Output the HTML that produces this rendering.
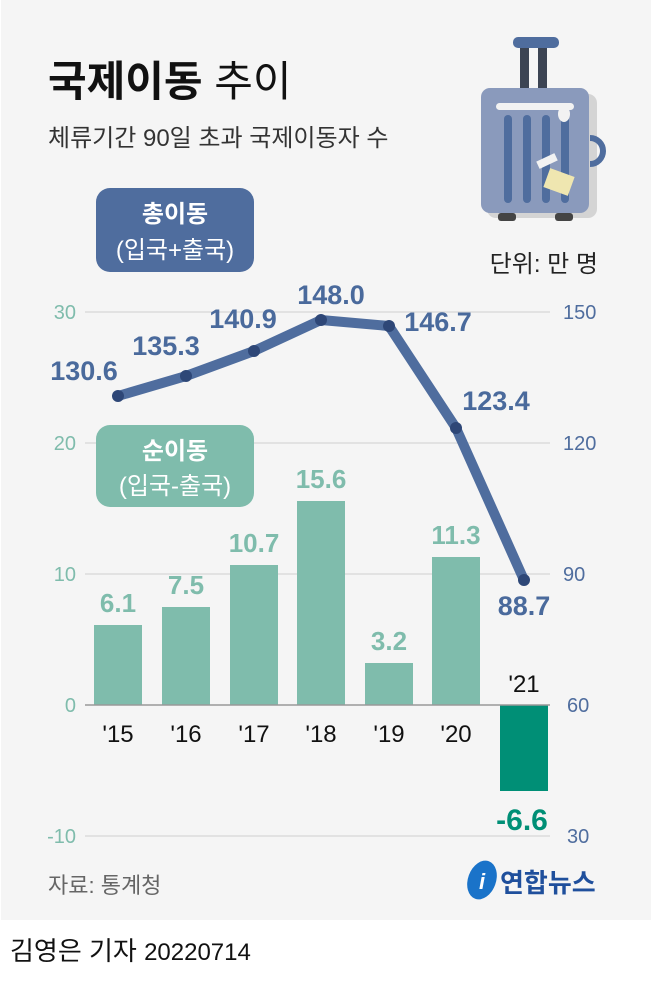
<!DOCTYPE html>
<html><head><meta charset="utf-8"><style>
body{margin:0;width:651px;height:980px;background:#fff;overflow:hidden}
svg text{font-family:"Liberation Sans","Noto Sans CJK KR",sans-serif}
</style></head><body>
<svg width="651" height="980" viewBox="0 0 651 980">
<rect x="1" y="0" width="650" height="920" fill="#f5f5f5"/>
<text x="48" y="96" font-size="42" font-weight="bold" fill="#111">국제이동 <tspan font-weight="normal">추이</tspan></text>
<text x="48" y="146" font-size="24" fill="#333">체류기간 90일 초과 국제이동자 수</text>
<!-- suitcase -->
<g>
<rect x="487" y="94" width="110" height="124" rx="9" fill="#d4d4d4"/>
<rect x="520" y="45" width="9" height="45" fill="#3c4453"/>
<rect x="538" y="45" width="9" height="45" fill="#3c4453"/>
<rect x="513" y="37" width="46" height="11" rx="5" fill="#4f6d9e"/>
<path d="M590 138 a12 12 0 0 1 0 26" stroke="#4f6d9e" stroke-width="6" fill="none"/>
<rect x="481" y="88" width="108" height="125" rx="9" fill="#8a9abc"/>
<rect x="496" y="103" width="78" height="7" rx="3.5" fill="#f2f2f2"/>
<rect x="504" y="115" width="8" height="88" rx="4" fill="#4f6d9e"/>
<rect x="523" y="115" width="8" height="88" rx="4" fill="#4f6d9e"/>
<rect x="542" y="115" width="8" height="88" rx="4" fill="#4f6d9e"/>
<rect x="561" y="115" width="8" height="88" rx="4" fill="#4f6d9e"/>
<ellipse cx="564" cy="114" rx="6" ry="8" fill="#f2f2f2"/>
<rect x="537" y="157" width="20" height="8" fill="#f2f2f2" transform="rotate(-25 547 161)"/>
<rect x="546" y="172" width="26" height="20" fill="#efe6b0" transform="rotate(20 559 182)"/>
<rect x="498" y="213" width="18" height="8" rx="3" fill="#444"/>
<rect x="555" y="213" width="18" height="8" rx="3" fill="#444"/>
</g>
<text x="598" y="272" font-size="24" fill="#222" text-anchor="end">단위: 만 명</text>
<!-- grid -->
<g stroke="#dcdcdc" stroke-width="1.5">
<line x1="85" y1="312" x2="550" y2="312"/><line x1="85" y1="443" x2="550" y2="443"/>
<line x1="85" y1="574" x2="550" y2="574"/><line x1="85" y1="836" x2="550" y2="836"/>
</g>
<g font-size="20" fill="#7fbcac" text-anchor="end">
<text x="76" y="319">30</text><text x="76" y="450">20</text><text x="76" y="581">10</text><text x="76" y="712">0</text><text x="76" y="843">-10</text>
</g>
<g font-size="20" fill="#4f6d9e">
<text x="563" y="319">150</text><text x="563" y="450">120</text><text x="563" y="581">90</text><text x="567" y="712">60</text><text x="567" y="843">30</text>
</g>
<!-- bars -->
<g fill="#7fbcac">
<rect x="94" y="625" width="48" height="80"/><rect x="162" y="607" width="48" height="98"/>
<rect x="230" y="565" width="48" height="140"/><rect x="297" y="501" width="48" height="204"/>
<rect x="365" y="663" width="48" height="42"/><rect x="432" y="557" width="48" height="148"/>
</g>
<rect x="500" y="705" width="48" height="86" fill="#008f76"/>
<line x1="85" y1="705" x2="550" y2="705" stroke="#999" stroke-width="1.5"/>
<g font-size="26" font-weight="bold" fill="#7fbcac" text-anchor="middle">
<text x="118" y="612">6.1</text><text x="186" y="594">7.5</text><text x="254" y="552">10.7</text>
<text x="321" y="488">15.6</text><text x="389" y="650">3.2</text><text x="456" y="544">11.3</text>
</g>
<text x="522" y="830" font-size="30" font-weight="bold" fill="#008f76" text-anchor="middle">-6.6</text>
<g font-size="24" fill="#111" text-anchor="middle">
<text x="118" y="742">'15</text><text x="186" y="742">'16</text><text x="254" y="742">'17</text>
<text x="321" y="742">'18</text><text x="389" y="742">'19</text><text x="456" y="742">'20</text><text x="524" y="692">'21</text>
</g>
<!-- line -->
<polyline points="118,396 186,376 254,351 321,320 389,326 456,428 524,580" fill="none" stroke="#4f6d9e" stroke-width="10" stroke-linejoin="round"/>
<g fill="#2e4777">
<circle cx="118" cy="396" r="6"/><circle cx="186" cy="376" r="6"/><circle cx="254" cy="351" r="6"/>
<circle cx="321" cy="320" r="6"/><circle cx="389" cy="326" r="6"/><circle cx="456" cy="428" r="6"/><circle cx="524" cy="580" r="6"/>
</g>
<g font-size="27" font-weight="bold" fill="#4a6a9c" text-anchor="middle">
<text x="84" y="380">130.6</text><text x="166" y="355">135.3</text><text x="243" y="328">140.9</text>
<text x="331" y="304">148.0</text><text x="438" y="331">146.7</text><text x="496" y="410">123.4</text><text x="524" y="615">88.7</text>
</g>
<!-- legends -->
<rect x="96" y="188" width="158" height="84" rx="14" fill="#4f6d9e"/>
<text x="175" y="222" font-size="24" font-weight="bold" fill="#fff" text-anchor="middle">총이동</text>
<text x="175" y="258" font-size="24" fill="#fff" text-anchor="middle">(입국+출국)</text>
<rect x="96" y="425" width="158" height="82" rx="14" fill="#7fbcac"/>
<text x="175" y="459" font-size="24" font-weight="bold" fill="#fff" text-anchor="middle">순이동</text>
<text x="175" y="494" font-size="24" fill="#fff" text-anchor="middle">(입국-출국)</text>
<!-- footer -->
<text x="48" y="893" font-size="22" fill="#666">자료: 통계청</text>
<ellipse cx="482" cy="880" rx="14" ry="20" fill="#1a73c9" transform="rotate(20 482 880)"/>
<text x="482" y="889" font-size="22" font-style="italic" font-weight="bold" fill="#fff" text-anchor="middle">i</text>
<text x="500" y="892" font-size="26" font-weight="bold" fill="#1f4f9c">연합뉴스</text>
<text x="10" y="960" font-size="26" fill="#111">김영은 기자 <tspan font-size="24">20220714</tspan></text>
</svg>
</body></html>
